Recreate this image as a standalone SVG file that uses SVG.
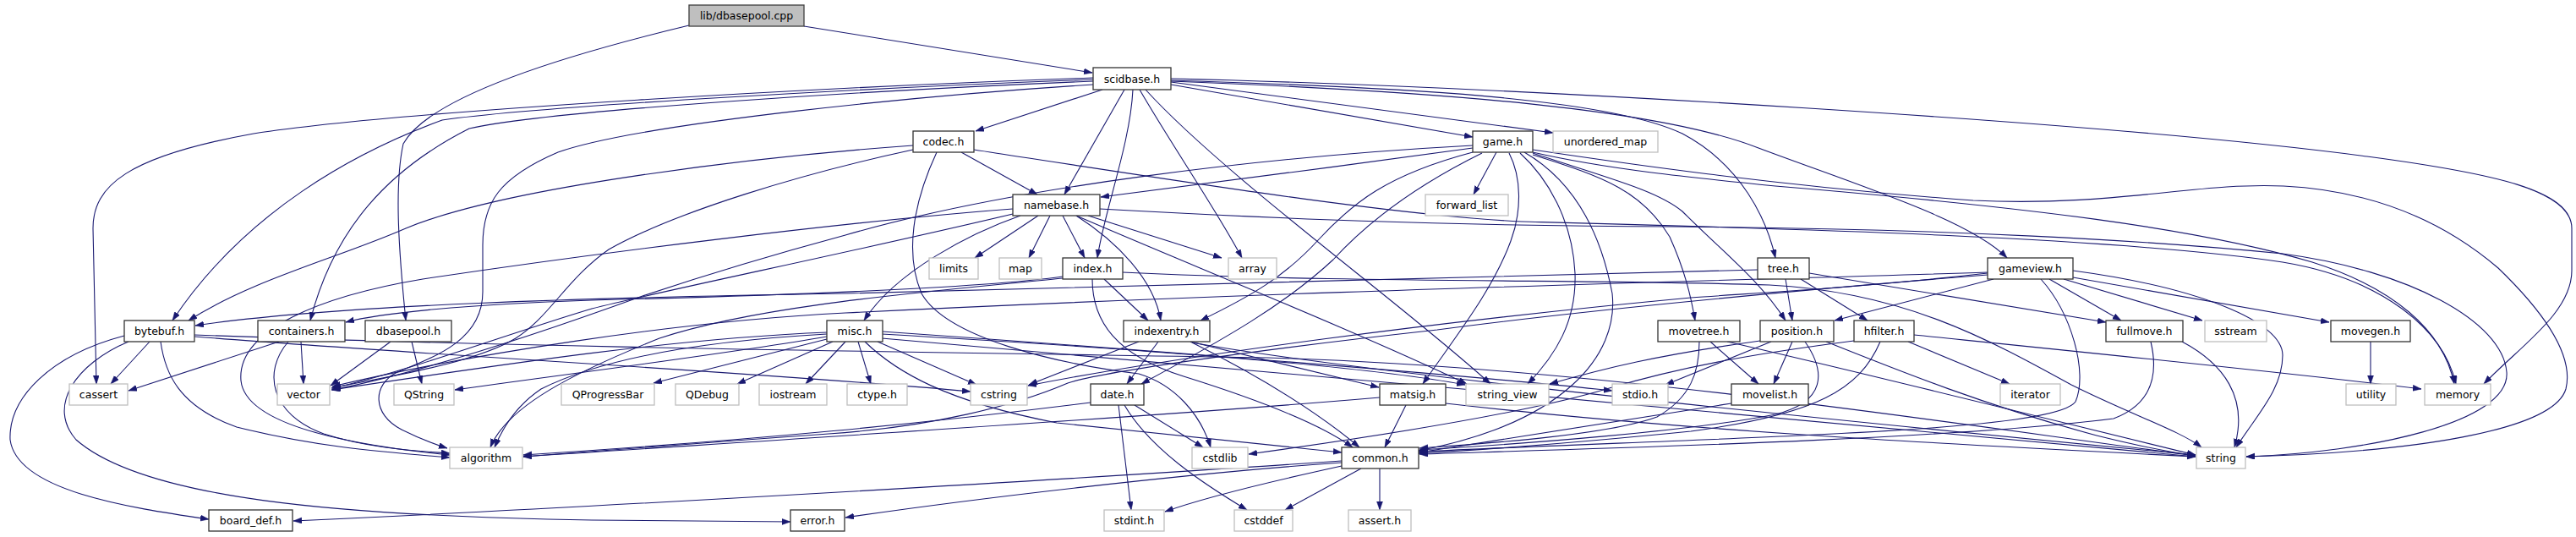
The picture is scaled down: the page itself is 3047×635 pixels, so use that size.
<svg xmlns="http://www.w3.org/2000/svg" width="3047" height="635" viewBox="0 0 3047 635">
<style>
.bg{fill:#ffffff}
.int rect{fill:#ffffff;stroke:#333333;stroke-width:1.3}
.ext rect{fill:#ffffff;stroke:#bfbfbf;stroke-width:1.3}
.root rect{fill:#bfbfbf;stroke:#404040;stroke-width:1.3}
text{font-family:"DejaVu Sans","Liberation Sans",sans-serif;font-size:12.5px;fill:#000000;text-anchor:middle}
#edges path{fill:none;stroke:#191970;stroke-width:1.1;marker-end:url(#ah)}
</style>
<defs>
<marker id="ah" markerUnits="userSpaceOnUse" markerWidth="11" markerHeight="8" refX="10" refY="3.5" orient="auto">
<path d="M0,0 L10,3.5 L0,7 z" fill="#191970" stroke="#191970" stroke-width="0.5"/>
</marker>
</defs>
<rect class="bg" x="0" y="0" width="3047" height="635"/>
<g id="edges">
<path d="M951,31 L1292,86"/>
<path d="M815,30 C690,60 510,110 477,170 C466,220 472,300 480,379"/>
<path d="M1304,106 L1154,155"/>
<path d="M1330,106 L1259,230"/>
<path d="M1340,106 C1337,170 1306,250 1298,305"/>
<path d="M1348,106 C1385,170 1440,250 1469,305"/>
<path d="M1355,106 C1450,210 1660,360 1763,454"/>
<path d="M1385,100 L1742,162"/>
<path d="M1385,97 L1837,157"/>
<path d="M1385,95 C1650,103 1900,115 1990,158 C2060,195 2090,260 2100,305"/>
<path d="M1385,96 C1700,108 1960,128 2080,175 C2200,220 2330,260 2374,305"/>
<path d="M1385,93 C1800,103 2500,145 2800,185 C2950,205 3042,225 3042,270 L3042,320 C3042,370 2980,410 2938,454"/>
<path d="M1293,92 C1000,102 480,130 300,158 C150,185 110,220 110,270 L114,454"/>
<path d="M1293,94 C1050,103 640,125 523,142 C420,180 290,250 204,379"/>
<path d="M1293,96 C1050,106 650,130 555,152 C460,200 395,270 367,379"/>
<path d="M1293,100 C1100,112 760,145 660,180 C590,210 571,240 571,290 L571,345 C571,400 520,420 470,440 C440,455 440,490 475,508 C495,518 510,524 529,530"/>
<path d="M1137,180 L1227,230"/>
<path d="M1080,172 C900,185 600,220 480,270 C400,305 300,330 223,379"/>
<path d="M1080,177 C950,205 800,250 720,295 C670,330 650,375 610,400 C560,430 460,445 392,459"/>
<path d="M1108,180 C1080,240 1070,300 1090,347 C1120,400 1250,430 1347,442 C1390,455 1420,490 1432,529"/>
<path d="M1152,177 C1400,215 1650,255 1800,262 C2100,270 2500,280 2700,310 C2820,330 2890,390 2905,454"/>
<path d="M1228,255 L1153,305"/>
<path d="M1242,255 L1217,305"/>
<path d="M1257,255 L1283,305"/>
<path d="M1273,255 C1320,285 1365,330 1373,379"/>
<path d="M1287,255 L1445,305"/>
<path d="M1207,255 C1150,275 1060,320 1022,379"/>
<path d="M1198,247 C1000,262 700,300 500,330 C380,350 280,390 285,450 C290,500 400,525 532,538"/>
<path d="M1198,253 C1000,300 800,340 700,365 C600,395 480,440 393,459"/>
<path d="M1301,247 C1500,258 1700,267 1980,268 C2300,270 2550,285 2700,300 C2850,320 2960,380 2965,440 C2970,500 2800,535 2657,540"/>
<path d="M1273,255 C1400,310 1600,390 1735,454"/>
<path d="M1742,175 C1600,195 1400,220 1302,233"/>
<path d="M1770,180 L1743,230"/>
<path d="M1742,180 C1640,207 1600,240 1560,283 C1520,327 1480,350 1420,379"/>
<path d="M1753,181 C1680,217 1620,260 1577,307 C1520,360 1450,400 1350,454"/>
<path d="M1785,181 C1800,210 1800,250 1787,285 C1765,345 1720,400 1683,454"/>
<path d="M1798,181 C1830,210 1860,260 1863,323 C1865,380 1840,420 1807,454"/>
<path d="M1803,180 C1860,213 1893,273 1907,347 C1915,420 1850,500 1678,533"/>
<path d="M1742,172 C1500,185 1200,220 1000,278 C900,305 820,330 760,350 C650,390 500,440 393,461"/>
<path d="M1813,177 C1900,190 2100,220 2334,237 C2500,245 2600,215 2701,220 C2820,226 2900,270 2955,317 C3010,370 3045,420 3035,460 C3020,510 2850,535 2657,540"/>
<path d="M1813,180 C1900,200 2000,210 2100,220 C2400,245 2600,270 2735,310 C2830,340 2890,390 2903,454"/>
<path d="M1813,181 C1900,210 1960,225 1990,250 C2040,300 2080,330 2112,379"/>
<path d="M1813,183 C1900,210 1943,227 1975,280 C1993,320 2000,350 2005,379"/>
<path d="M1306,330 L1358,379"/>
<path d="M1292,330 C1292,380 1320,420 1400,445 C1480,470 1560,500 1600,529"/>
<path d="M1257,327 C1150,342 900,350 700,355 C550,360 450,370 409,381"/>
<path d="M1257,329 C1100,345 900,360 780,400 C680,440 600,480 580,529"/>
<path d="M1328,322 C1600,335 1900,330 2093,337 C2250,345 2350,400 2450,455 C2520,490 2580,510 2604,529"/>
<path d="M2112,330 L2120,379"/>
<path d="M2130,330 L2209,379"/>
<path d="M2140,323 L2491,381"/>
<path d="M2079,319 C1800,325 1400,340 1000,347 C700,352 400,360 231,385"/>
<path d="M2358,330 L2170,379"/>
<path d="M2424,330 L2509,379"/>
<path d="M2441,330 L2605,379"/>
<path d="M2452,328 L2755,381"/>
<path d="M2452,320 C2600,340 2700,380 2700,420 C2700,460 2670,490 2645,529"/>
<path d="M2414,330 C2450,370 2470,440 2455,475 C2430,510 2100,515 1678,534"/>
<path d="M2351,325 C2100,345 1850,370 1700,390 C1500,412 1300,440 1263,453 C1200,480 1100,505 980,513 C850,522 700,535 619,540"/>
<path d="M2351,322 C2000,333 1500,345 1000,370 C800,380 550,420 393,457"/>
<path d="M2351,323 C2200,340 2100,345 2000,352 C1700,380 1400,420 1216,456"/>
<path d="M2257,404 L2377,454"/>
<path d="M2264,396 C2500,420 2700,440 2864,460"/>
<path d="M2224,404 C2200,460 2150,490 2000,510 C1850,525 1750,532 1678,536"/>
<path d="M2193,403 C2100,415 2000,430 1900,460 C1800,490 1600,520 1477,537"/>
<path d="M2120,404 L2098,454"/>
<path d="M2095,404 L1970,455"/>
<path d="M2082,403 C1960,420 1900,435 1833,454"/>
<path d="M2135,404 C2160,440 2160,475 2100,490 C2000,510 1800,525 1679,532"/>
<path d="M2160,404 C2250,440 2350,480 2480,515 C2540,530 2570,535 2597,539"/>
<path d="M2023,404 L2080,454"/>
<path d="M2010,404 C2010,440 2000,470 1960,493 C1900,515 1750,525 1679,530"/>
<path d="M2043,404 C2200,440 2400,490 2597,538"/>
<path d="M2048,477 C1900,500 1750,525 1679,535"/>
<path d="M2581,404 C2630,430 2660,470 2643,529"/>
<path d="M2544,404 C2555,450 2540,480 2500,495 C2300,520 1900,530 1679,537"/>
<path d="M2804,404 L2804,454"/>
<path d="M177,404 L131,454"/>
<path d="M190,404 C195,440 210,480 280,505 C380,530 460,535 532,541"/>
<path d="M147,397 C60,420 10,470 12,520 C20,580 150,600 247,614"/>
<path d="M152,404 C90,430 55,480 90,520 C170,590 400,610 700,615 L935,617"/>
<path d="M230,398 C500,420 900,440 1148,463"/>
<path d="M230,396 C600,410 1000,415 1500,423 C1900,435 2300,500 2597,539"/>
<path d="M330,404 L152,462"/>
<path d="M356,404 L359,454"/>
<path d="M341,404 C310,440 320,490 383,513 C430,528 480,533 532,536"/>
<path d="M462,404 L391,456"/>
<path d="M487,404 L499,454"/>
<path d="M1015,404 L1030,454"/>
<path d="M1038,404 L1155,455"/>
<path d="M978,401 L773,453"/>
<path d="M985,404 L872,454"/>
<path d="M1000,404 L953,454"/>
<path d="M978,398 C850,420 650,445 538,461"/>
<path d="M978,393 C800,400 600,430 392,461"/>
<path d="M978,395 C800,405 700,430 640,460 C610,480 595,505 585,529"/>
<path d="M1023,404 C1060,440 1120,475 1250,500 C1400,515 1500,525 1587,535"/>
<path d="M1043,395 C1300,410 1600,430 1733,455"/>
<path d="M1043,392 C1300,410 1700,440 1907,462"/>
<path d="M1043,400 C1500,440 2200,500 2597,540"/>
<path d="M1347,404 L1217,455"/>
<path d="M1370,404 L1333,454"/>
<path d="M1408,404 L1631,458"/>
<path d="M1408,404 C1480,440 1550,480 1608,529"/>
<path d="M1410,405 C1600,440 2200,500 2597,538"/>
<path d="M1323,479 L1338,603"/>
<path d="M1330,479 C1360,530 1420,570 1475,603"/>
<path d="M1342,479 L1423,529"/>
<path d="M1290,476 C1100,500 900,520 619,538"/>
<path d="M1663,479 L1638,529"/>
<path d="M1632,470 C1400,490 1000,515 619,540"/>
<path d="M1710,477 C2000,510 2300,525 2597,540"/>
<path d="M1632,554 L1632,603"/>
<path d="M1610,554 L1520,603"/>
<path d="M1587,551 C1500,570 1420,590 1378,605"/>
<path d="M1587,547 C1400,560 1150,590 1000,612"/>
<path d="M1587,545 C1300,565 700,600 347,616"/>
</g>
<g id="n_root" class="root"><rect x="815" y="6" width="136" height="25"/><text x="883" y="23">lib/dbasepool.cpp</text></g>
<g id="n_scidbase" class="int"><rect x="1293" y="80" width="92" height="26"/><text x="1339" y="98">scidbase.h</text></g>
<g id="n_codec" class="int"><rect x="1080" y="155" width="72" height="25"/><text x="1116" y="172">codec.h</text></g>
<g id="n_game" class="int"><rect x="1742" y="155" width="71" height="25"/><text x="1777.5" y="172">game.h</text></g>
<g id="n_unordered_map" class="ext"><rect x="1837" y="155" width="124" height="25"/><text x="1899" y="172">unordered_map</text></g>
<g id="n_namebase" class="int"><rect x="1198" y="230" width="103" height="25"/><text x="1249.5" y="247">namebase.h</text></g>
<g id="n_forward_list" class="ext"><rect x="1686" y="230" width="98" height="25"/><text x="1735" y="247">forward_list</text></g>
<g id="n_limits" class="ext"><rect x="1099" y="305" width="58" height="25"/><text x="1128" y="322">limits</text></g>
<g id="n_map" class="ext"><rect x="1182" y="305" width="50" height="25"/><text x="1207" y="322">map</text></g>
<g id="n_index" class="int"><rect x="1257" y="305" width="71" height="25"/><text x="1292.5" y="322">index.h</text></g>
<g id="n_array" class="ext"><rect x="1453" y="305" width="57" height="25"/><text x="1481.5" y="322">array</text></g>
<g id="n_tree" class="int"><rect x="2079" y="305" width="61" height="25"/><text x="2109.5" y="322">tree.h</text></g>
<g id="n_gameview" class="int"><rect x="2351" y="305" width="101" height="25"/><text x="2401.5" y="322">gameview.h</text></g>
<g id="n_bytebuf" class="int"><rect x="147" y="379" width="83" height="25"/><text x="188.5" y="396">bytebuf.h</text></g>
<g id="n_containers" class="int"><rect x="305" y="379" width="103" height="25"/><text x="356.5" y="396">containers.h</text></g>
<g id="n_dbasepool_h" class="int"><rect x="432" y="379" width="102" height="25"/><text x="483" y="396">dbasepool.h</text></g>
<g id="n_misc" class="int"><rect x="978" y="379" width="66" height="25"/><text x="1011" y="396">misc.h</text></g>
<g id="n_indexentry" class="int"><rect x="1329" y="379" width="102" height="25"/><text x="1380" y="396">indexentry.h</text></g>
<g id="n_movetree" class="int"><rect x="1961" y="379" width="97" height="25"/><text x="2009.5" y="396">movetree.h</text></g>
<g id="n_position" class="int"><rect x="2082" y="379" width="87" height="25"/><text x="2125.5" y="396">position.h</text></g>
<g id="n_hfilter" class="int"><rect x="2193" y="379" width="71" height="25"/><text x="2228.5" y="396">hfilter.h</text></g>
<g id="n_fullmove" class="int"><rect x="2491" y="379" width="91" height="25"/><text x="2536.5" y="396">fullmove.h</text></g>
<g id="n_sstream" class="ext"><rect x="2608" y="379" width="73" height="25"/><text x="2644.5" y="396">sstream</text></g>
<g id="n_movegen" class="int"><rect x="2757" y="379" width="94" height="25"/><text x="2804" y="396">movegen.h</text></g>
<g id="n_cassert" class="ext"><rect x="82" y="454" width="69" height="25"/><text x="116.5" y="471">cassert</text></g>
<g id="n_vector" class="ext"><rect x="328" y="454" width="62" height="25"/><text x="359" y="471">vector</text></g>
<g id="n_QString" class="ext"><rect x="466" y="454" width="71" height="25"/><text x="501.5" y="471">QString</text></g>
<g id="n_QProgressBar" class="ext"><rect x="664" y="454" width="110" height="25"/><text x="719" y="471">QProgressBar</text></g>
<g id="n_QDebug" class="ext"><rect x="799" y="454" width="75" height="25"/><text x="836.5" y="471">QDebug</text></g>
<g id="n_iostream" class="ext"><rect x="898" y="454" width="80" height="25"/><text x="938" y="471">iostream</text></g>
<g id="n_ctype" class="ext"><rect x="1002" y="454" width="71" height="25"/><text x="1037.5" y="471">ctype.h</text></g>
<g id="n_cstring" class="ext"><rect x="1148" y="454" width="67" height="25"/><text x="1181.5" y="471">cstring</text></g>
<g id="n_date" class="int"><rect x="1290" y="454" width="63" height="25"/><text x="1321.5" y="471">date.h</text></g>
<g id="n_matsig" class="int"><rect x="1632" y="454" width="78" height="25"/><text x="1671" y="471">matsig.h</text></g>
<g id="n_string_view" class="ext"><rect x="1734" y="454" width="98" height="25"/><text x="1783" y="471">string_view</text></g>
<g id="n_stdio" class="ext"><rect x="1907" y="454" width="66" height="25"/><text x="1940" y="471">stdio.h</text></g>
<g id="n_movelist" class="int"><rect x="2048" y="454" width="91" height="25"/><text x="2093.5" y="471">movelist.h</text></g>
<g id="n_iterator" class="ext"><rect x="2366" y="454" width="71" height="25"/><text x="2401.5" y="471">iterator</text></g>
<g id="n_utility" class="ext"><rect x="2775" y="454" width="59" height="25"/><text x="2804.5" y="471">utility</text></g>
<g id="n_memory" class="ext"><rect x="2868" y="454" width="78" height="25"/><text x="2907" y="471">memory</text></g>
<g id="n_algorithm" class="ext"><rect x="532" y="529" width="86" height="25"/><text x="575" y="546">algorithm</text></g>
<g id="n_cstdlib" class="ext"><rect x="1410" y="529" width="66" height="25"/><text x="1443" y="546">cstdlib</text></g>
<g id="n_common" class="int"><rect x="1587" y="529" width="91" height="25"/><text x="1632.5" y="546">common.h</text></g>
<g id="n_string" class="ext"><rect x="2598" y="529" width="58" height="25"/><text x="2627" y="546">string</text></g>
<g id="n_board_def" class="int"><rect x="247" y="603" width="99" height="25"/><text x="296.5" y="620">board_def.h</text></g>
<g id="n_error" class="int"><rect x="935" y="603" width="64" height="25"/><text x="967" y="620">error.h</text></g>
<g id="n_stdint" class="ext"><rect x="1306" y="603" width="71" height="25"/><text x="1341.5" y="620">stdint.h</text></g>
<g id="n_cstddef" class="ext"><rect x="1460" y="603" width="69" height="25"/><text x="1494.5" y="620">cstddef</text></g>
<g id="n_assert" class="ext"><rect x="1595" y="603" width="74" height="25"/><text x="1632" y="620">assert.h</text></g>
</svg>
